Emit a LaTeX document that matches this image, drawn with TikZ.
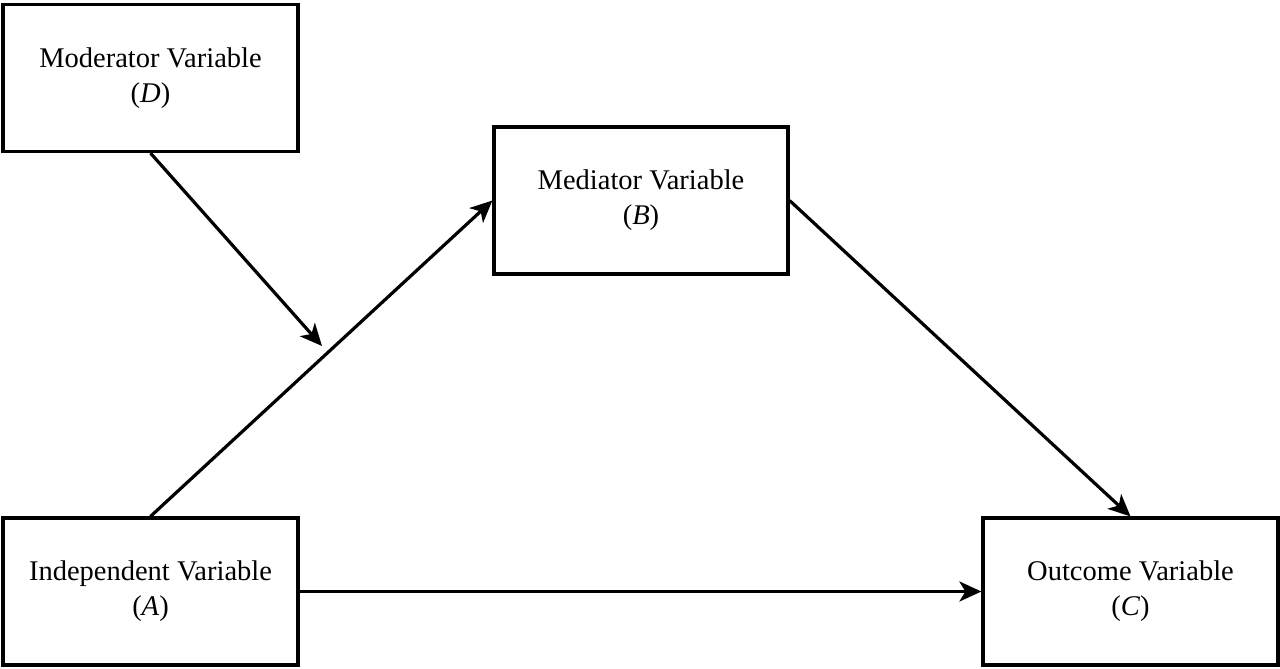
\documentclass[tikz,border=0pt]{standalone}
\usepackage{fontspec}
\setmainfont{Liberation Serif}
\usetikzlibrary{arrows.meta}
\begin{document}
\begin{tikzpicture}[x=1pt,y=-1pt,
  box/.style={draw,line width=3.2pt,minimum width=295pt,minimum height=147pt,inner sep=0pt,align=center,font=\fontsize{28.5}{35}\selectfont},
  conn/.style={line width=3.2pt,-{Stealth[length=22pt,width=20pt,inset=6pt]}}]
\useasboundingbox (0,0) rectangle (1280,669);
\node[box] (D) at (150.5,78) {Moderator Variable\\(\textit{D})};
\node[box,minimum width=294pt] (B) at (641,200.5) {Mediator Variable\\(\textit{B})};
\node[box] (A) at (150.5,591.5) {Independent Variable\\(\textit{A})};
\node[box] (C) at (1130.5,591.5) {Outcome Variable\\(\textit{C})};
\coordinate (M) at (322,346);
\draw[conn] (A.north) -- (B.west);
\draw[conn] (D.south) -- (M);
\draw[conn] (B.east) -- (C.north);
\draw[conn] (A.east) -- (C.west);
\end{tikzpicture}
\end{document}
